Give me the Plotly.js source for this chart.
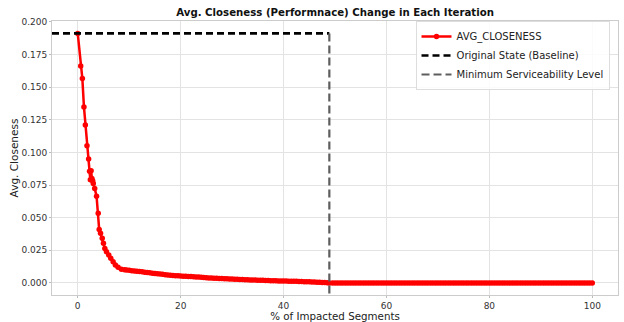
<!DOCTYPE html>
<html>
<head>
<meta charset="utf-8">
<script src="https://cdn.plot.ly/plotly-3.0.1.min.js"></script>
<style>
  html, body { margin: 0; padding: 0; background: #fff; }
  #chart { width: 624px; height: 322px; }
</style>
</head>
<body>
<div id="chart"></div>
<script>
// Share of impacted segments (%) at each iteration
const impactedPct = [
  0, 0.58, 0.9, 1.21, 1.48, 1.8, 2.12, 2.3, 2.45, 2.6, 2.75, 2.9, 3.02, 3.3, 3.66,
  3.98, 4.17, 4.43, 4.76, 5.0, 5.27, 5.59, 6.03, 6.42, 6.88, 7.32, 7.84, 8.48,
  9.1, 9.5,
  10, 10.5, 11, 11.5, 12, 12.5, 13, 13.5, 14, 14.5,
  15, 15.5, 16, 16.5, 17, 17.5, 18, 18.5, 19, 19.5,
  20, 20.5, 21, 21.5, 22, 22.5, 23, 23.5, 24, 24.5,
  25, 25.5, 26, 26.5, 27, 27.5, 28, 28.5, 29, 29.5,
  30, 30.5, 31, 31.5, 32, 32.5, 33, 33.5, 34, 34.5,
  35, 35.5, 36, 36.5, 37, 37.5, 38, 38.5, 39, 39.5,
  40, 40.5, 41, 41.5, 42, 42.5, 43, 43.5, 44, 44.5,
  45, 45.5, 46, 46.5, 47, 47.5, 48, 48.5, 48.9, 49.5,
  50, 50.5, 51, 51.5, 52, 52.5, 53, 53.5, 54, 54.5,
  55, 55.5, 56, 56.5, 57, 57.5, 58, 58.5, 59, 59.5,
  60, 60.5, 61, 61.5, 62, 62.5, 63, 63.5, 64, 64.5,
  65, 65.5, 66, 66.5, 67, 67.5, 68, 68.5, 69, 69.5,
  70, 70.5, 71, 71.5, 72, 72.5, 73, 73.5, 74, 74.5,
  75, 75.5, 76, 76.5, 77, 77.5, 78, 78.5, 79, 79.5,
  80, 80.5, 81, 81.5, 82, 82.5, 83, 83.5, 84, 84.5,
  85, 85.5, 86, 86.5, 87, 87.5, 88, 88.5, 89, 89.5,
  90, 90.5, 91, 91.5, 92, 92.5, 93, 93.5, 94, 94.5,
  95, 95.5, 96, 96.5, 97, 97.5, 98, 98.5, 99, 99.5,
  100
];

// Average closeness measured at each iteration
const avgCloseness = [
  0.1911, 0.1661, 0.1565, 0.1348, 0.1210, 0.1050, 0.0950, 0.0855, 0.0790, 0.0860,
  0.0800, 0.0782, 0.0762, 0.0724, 0.0665, 0.0533, 0.0410, 0.0380, 0.0342, 0.0304,
  0.0265, 0.0239, 0.0214, 0.0189, 0.0163, 0.0138, 0.0120, 0.0106, 0.0101, 0.0099,
  0.0097, 0.0094, 0.0092, 0.0090, 0.0088, 0.0086, 0.0083, 0.0081, 0.0078, 0.0075,
  0.0072, 0.0070, 0.0068, 0.0066, 0.0064, 0.0062, 0.0060, 0.0058, 0.0056, 0.0055,
  0.0053, 0.0052, 0.0051, 0.0050, 0.0049, 0.0047, 0.0046, 0.0045, 0.0043, 0.0042,
  0.0040, 0.0039, 0.0038, 0.0037, 0.0036, 0.0035, 0.0034, 0.0033, 0.0032, 0.0031,
  0.0030, 0.0029, 0.0028, 0.0027, 0.0026, 0.0025, 0.0024, 0.0023, 0.0022, 0.0022,
  0.0021, 0.0020, 0.0020, 0.0019, 0.0019, 0.0018, 0.0017, 0.0017, 0.0016, 0.0016,
  0.0015, 0.0015, 0.0014, 0.0014, 0.0013, 0.0013, 0.0012, 0.0011, 0.0010, 0.0010,
  0.0009, 0.0008, 0.0007, 0.0006, 0.0005, 0.0004, 0.0003, 0.0002, 0.0000, 0,
  0, 0, 0, 0, 0, 0, 0, 0, 0, 0,
  0, 0, 0, 0, 0, 0, 0, 0, 0, 0,
  0, 0, 0, 0, 0, 0, 0, 0, 0, 0,
  0, 0, 0, 0, 0, 0, 0, 0, 0, 0,
  0, 0, 0, 0, 0, 0, 0, 0, 0, 0,
  0, 0, 0, 0, 0, 0, 0, 0, 0, 0,
  0, 0, 0, 0, 0, 0, 0, 0, 0, 0,
  0, 0, 0, 0, 0, 0, 0, 0, 0, 0,
  0, 0, 0, 0, 0, 0, 0, 0, 0, 0,
  0, 0, 0, 0, 0, 0, 0, 0, 0, 0,
  0
];

// Reference levels
const baselineCloseness = 0.1911;
const serviceabilityPct = 48.9;

const xRange = [-5, 105];
const yRange = [-0.0092, 0.2006];

const FONT = 'DejaVu Sans, sans-serif';

const traces = [
  {
    x: impactedPct,
    y: avgCloseness,
    name: 'AVG_CLOSENESS',
    type: 'scatter',
    mode: 'lines+markers',
    line: { color: '#ff0000', width: 2.5 },
    marker: { color: '#ff0000', size: 5.5 }
  },
  {
    x: [xRange[0], serviceabilityPct],
    y: [baselineCloseness, baselineCloseness],
    name: 'Original State (Baseline)',
    type: 'scatter',
    mode: 'lines',
    line: { color: '#000000', width: 2.6, dash: '7px,4px' }
  },
  {
    x: [serviceabilityPct, serviceabilityPct],
    y: [baselineCloseness, yRange[0]],
    name: 'Minimum Serviceability Level',
    type: 'scatter',
    mode: 'lines',
    line: { color: '#5e5e5e', width: 2.2, dash: '8px,4px' }
  }
];

const axisCommon = {
  showgrid: true,
  gridcolor: '#e3e3e3',
  gridwidth: 1,
  zeroline: false,
  showline: true,
  linecolor: '#cccccc',
  linewidth: 1,
  mirror: true,
  ticks: 'outside',
  ticklen: 2,
  tickcolor: '#bbbbbb',
  tickfont: { family: FONT, size: 9, color: '#333333' }
};

const layout = {
  width: 624,
  height: 322,
  margin: { l: 52, r: 6, t: 21, b: 27 },
  paper_bgcolor: '#ffffff',
  plot_bgcolor: '#ffffff',
  font: { family: FONT, color: '#222222' },
  title: {
    text: '<b>Avg. Closeness (Performnace) Change in Each Iteration</b>',
    font: { family: FONT, size: 10.2, color: '#111111' },
    x: 0.537, xanchor: 'center',
    y: 0.972, yanchor: 'top'
  },
  xaxis: Object.assign({}, axisCommon, {
    range: xRange,
    tickvals: [0, 20, 40, 60, 80, 100],
    title: { text: '% of Impacted Segments', font: { family: FONT, size: 10.3, color: '#222222' }, standoff: 3 }
  }),
  yaxis: Object.assign({}, axisCommon, {
    range: yRange,
    tickvals: [0, 0.025, 0.05, 0.075, 0.1, 0.125, 0.15, 0.175, 0.2],
    tickformat: '.3f',
    title: { text: 'Avg. Closeness', font: { family: FONT, size: 10.5, color: '#222222' }, standoff: 0 }
  }),
  legend: {
    x: 0.985, y: 1.0, xanchor: 'right', yanchor: 'top',
    bgcolor: 'rgba(255,255,255,0.85)',
    bordercolor: '#dddddd',
    borderwidth: 1,
    font: { family: FONT, size: 10, color: '#222222' },
    tracegroupgap: 0,
    itemwidth: 30
  },
  showlegend: true
};

Plotly.newPlot('chart', traces, layout, { staticPlot: true, displayModeBar: false });
</script>
</body>
</html>
